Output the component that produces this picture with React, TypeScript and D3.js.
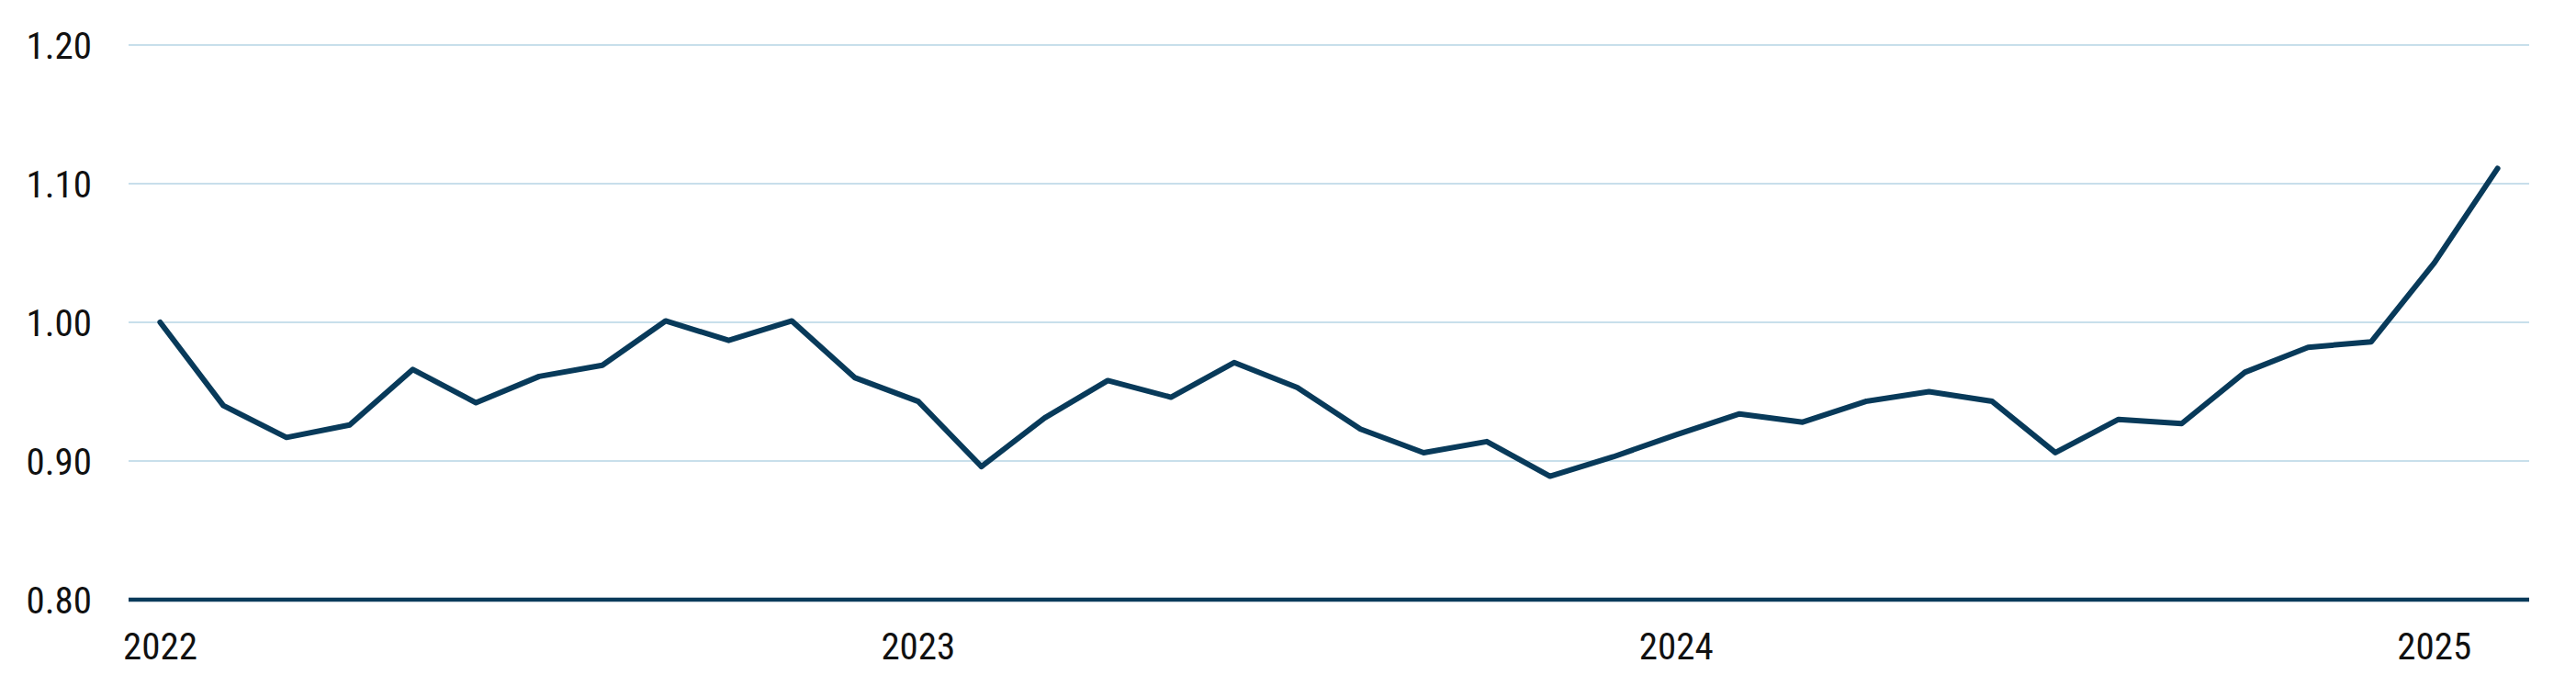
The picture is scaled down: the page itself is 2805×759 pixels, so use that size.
import * as d3 from 'd3'
import React from 'react'

// monthly index, Jan 2022 .. Feb 2025
const months = d3.range(38).map(i => new Date(Date.UTC(2022, i, 1)))
const values = [
  1.000, 0.940, 0.917, 0.926, 0.966, 0.942, 0.961, 0.969,
  1.001, 0.987, 1.001, 0.960, 0.943, 0.896, 0.931, 0.958,
  0.946, 0.971, 0.953, 0.923, 0.906, 0.914, 0.889, 0.903,
  0.919, 0.934, 0.928, 0.943, 0.950, 0.943, 0.906, 0.930,
  0.927, 0.964, 0.982, 0.986, 1.043, 1.111,
]
const yTicks = [0.8, 0.9, 1.0, 1.1, 1.2]
const yearLabels = ['2022', '2023', '2024', '2025']

const W = 2805, H = 759
const margin = { left: 140, right: 51, top: 49, bottom: 106 }
const navy = '#083a5a', grid = '#c8dfeb'
const font = "'Roboto Condensed', 'Liberation Sans Narrow', Roboto, sans-serif"

export default function App() {
  React.useEffect(() => { document.body.style.margin = '0' }, [])

  const
    x = d3.scaleLinear().domain([-0.5, months.length - 0.5]).range([margin.left, W - margin.right]),
    y = d3.scaleLinear().domain([0.8, 1.2]).range([H - margin.bottom, margin.top]),
    ln = d3.line<number>().x((_, i) => x(i)).y(d => y(d)).curve(d3.curveLinear)

  const janIdx = months.map((m, i) => (m.getUTCMonth() === 0 ? i : -1)).filter(i => i >= 0)

  return (
    <svg width={W} height={H} style={{ display: 'block', background: '#fff' }}>
      {yTicks.filter(t => t > 0.8).map(t => (
        <line key={t} x1={x.range()[0]} x2={x.range()[1]} y1={y(t)} y2={y(t)} stroke={grid} strokeWidth={2.2} />
      ))}
      {yTicks.map(t => (
        <text key={t} x={100} y={y(t)} dy='0.36em' textAnchor='end' fontFamily={font} fontSize={41} fill='#111'>
          {d3.format('.2f')(t)}
        </text>
      ))}
      <line x1={x.range()[0]} x2={x.range()[1]} y1={y(0.8)} y2={y(0.8)} stroke={navy} strokeWidth={4.5} />
      {janIdx.map((i, k) => (
        <text key={i} x={x(i)} y={718} textAnchor='middle' fontFamily={font} fontSize={41} fill='#111'>
          {yearLabels[k]}
        </text>
      ))}
      <path d={ln(values) as string} fill='none' stroke={navy} strokeWidth={6} strokeLinejoin='round' strokeLinecap='round' />
    </svg>
  )
}
